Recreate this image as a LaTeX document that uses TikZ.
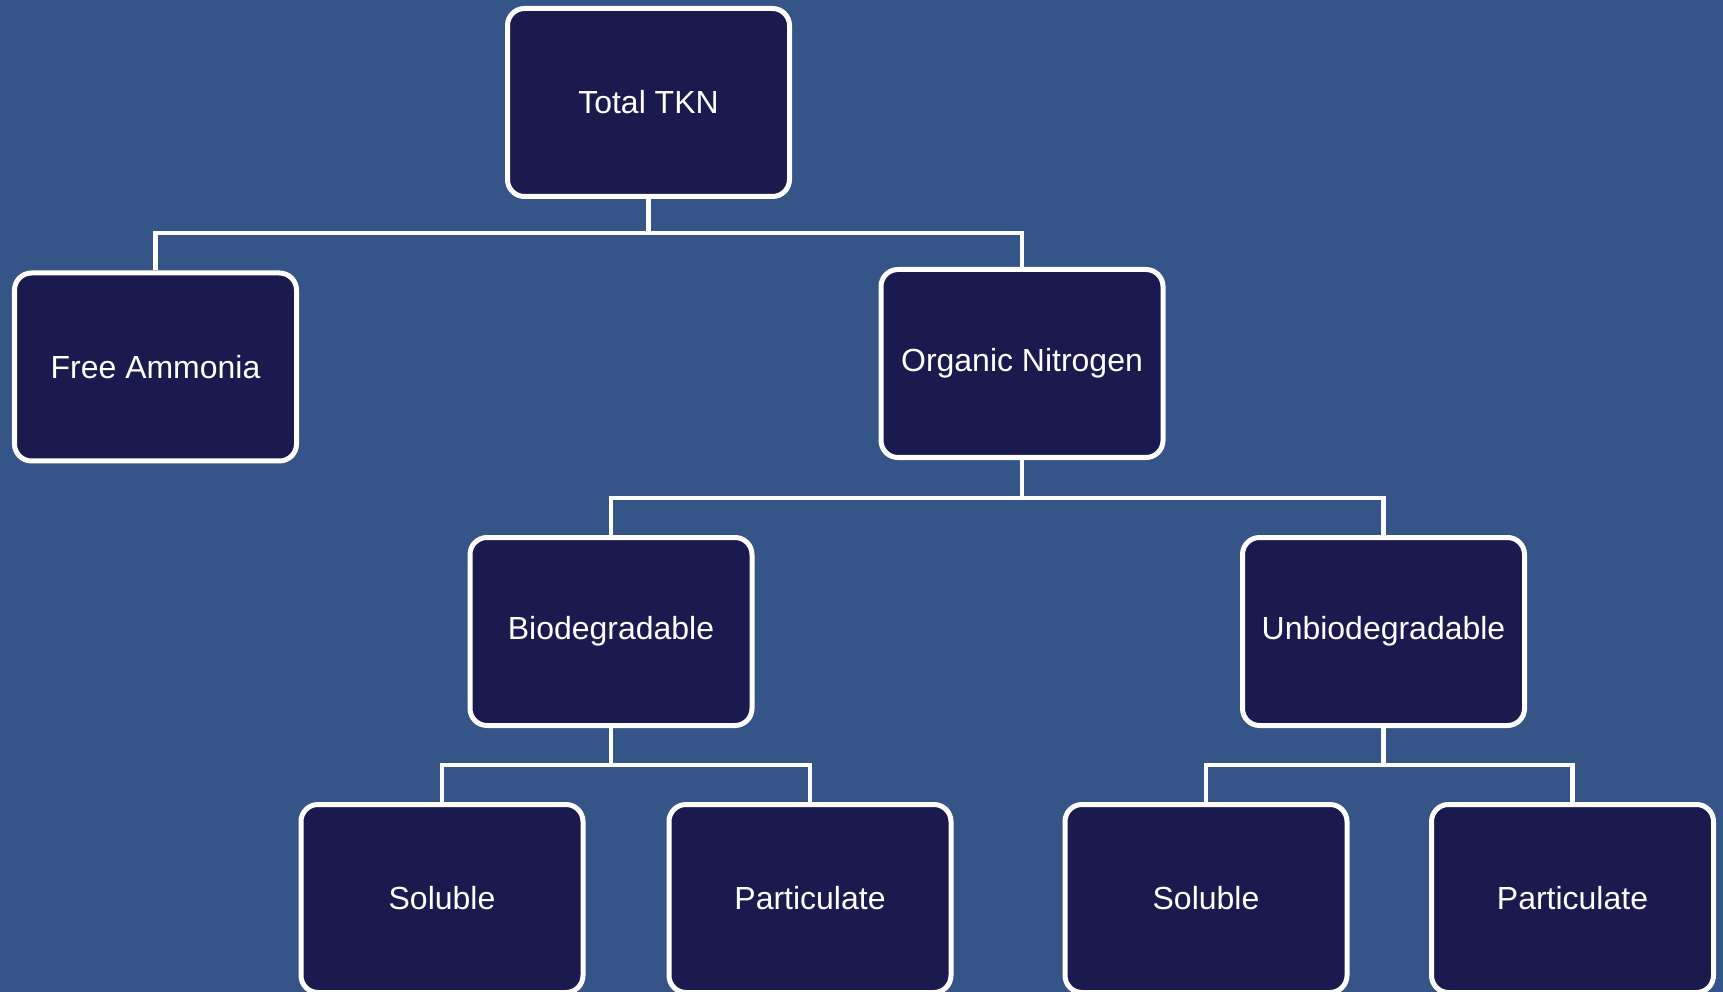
\documentclass[tikz,border=0pt]{standalone}
\usepackage{fontspec}
\setmainfont{Liberation Sans}
\usepackage{tikz}
\definecolor{backblue}{RGB}{53,84,136}
\definecolor{boxnavy}{RGB}{27,26,78}
\tikzstyle{every picture}=[line join=miter]
\tikzstyle{tkn box}=[rectangle,draw=white,fill=boxnavy,line width=0.1cm,rounded corners=0.34cm,minimum width=5.64cm,minimum height=3.76cm,text=white,font=\fontsize{18.2}{21}\selectfont]
\tikzstyle{tkn link}=[draw=white,line width=0.09cm]

\begin{document}
\begin{tikzpicture}
  \fill[backblue] (0,0) rectangle (34.46,-19.84);
  \useasboundingbox (0,0) rectangle (34.46,-19.84);

  % top level
  \node[tkn box] (tkn) at (12.97,-2.05) {Total TKN};
  \node[tkn box] (ammonia) at (3.11,-7.34) {Free Ammonia};
  \node[tkn box] (organic) at (20.44,-7.27) {Organic Nitrogen};

  % organic nitrogen split
  \node[tkn box] (bio) at (12.22,-12.63) {Biodegradable};
  \node[tkn box] (unbio) at (27.67,-12.63) {Unbiodegradable};

  \node[tkn box] (solbio) at (8.84,-17.97) {Soluble};
  \node[tkn box] (partbio) at (16.20,-17.97) {Particulate};
  \node[tkn box] (solunbio) at (24.12,-17.97) {Soluble};
  \node[tkn box] (partunbio) at (31.45,-17.97) {Particulate};

  \coordinate (bus1) at (12.97,-4.66);
  \coordinate (bus2) at (20.44,-9.96);
  \coordinate (bus3) at (12.22,-15.30);
  \coordinate (bus4) at (27.67,-15.30);

  \draw[tkn link] (tkn.south) -- (bus1) -| (ammonia.north);
  \draw[tkn link] (bus1) -| (organic.north);
  \draw[tkn link] (organic.south) -- (bus2) -| (bio.north);
  \draw[tkn link] (bus2) -| (unbio.north);
  \draw[tkn link] (bio.south) -- (bus3) -| (solbio.north);
  \draw[tkn link] (bus3) -| (partbio.north);
  \draw[tkn link] (unbio.south) -- (bus4) -| (solunbio.north);
  \draw[tkn link] (bus4) -| (partunbio.north);

\end{tikzpicture}
\end{document}
